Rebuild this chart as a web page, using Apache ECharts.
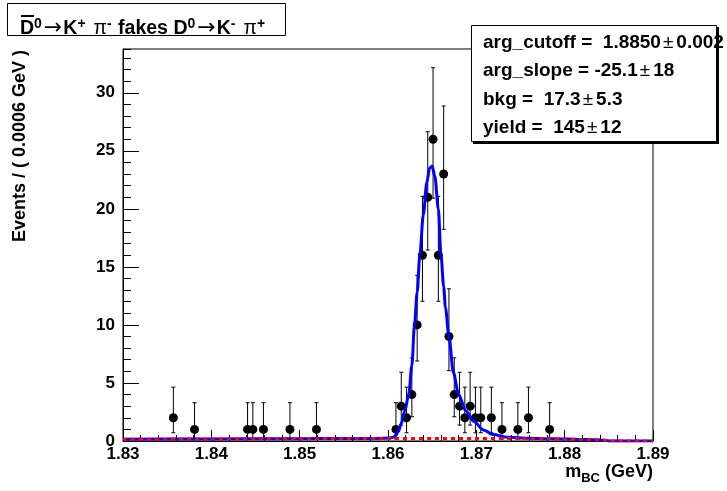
<!DOCTYPE html>
<html>
<head>
<meta charset="utf-8">
<script src="https://cdn.jsdelivr.net/npm/echarts@6/dist/echarts.min.js"></script>
<style>
  html, body { margin: 0; padding: 0; background: #fff; }
  #chart { width: 727px; height: 491px; }
</style>
</head>
<body>
<div id="chart"></div>
<script>
// Binned data: bin centres (GeV), event counts and Poisson error bars
const binCentres = [1.8357, 1.8381, 1.8441, 1.8447, 1.8459, 1.8489, 1.8519,
  1.8609, 1.8615, 1.8621, 1.8627, 1.8633, 1.8639, 1.8645, 1.8651, 1.8657,
  1.8663, 1.8669, 1.8675, 1.8681, 1.8687, 1.8693, 1.8699, 1.8705, 1.8717,
  1.8729, 1.8747, 1.8759, 1.8783];
const binCounts = [2, 1, 1, 1, 1, 1, 1,
  1, 3, 2, 4, 10, 16, 21, 26, 16,
  23, 9, 4, 3, 2, 3, 2, 2, 2,
  1, 1, 2, 1];
const errLow = [1.29, 0.83, 0.83, 0.83, 0.83, 0.83, 0.83,
  0.83, 1.63, 1.29, 1.91, 3.11, 3.96, 4.55, 5.08, 3.96,
  4.77, 2.94, 1.91, 1.63, 1.29, 1.63, 1.29, 1.29, 1.29,
  0.83, 0.83, 1.29, 0.83];
const errHigh = [2.64, 2.30, 2.30, 2.30, 2.30, 2.30, 2.30,
  2.30, 2.92, 2.64, 3.16, 4.27, 5.08, 5.65, 6.16, 5.08,
  5.86, 4.11, 3.16, 2.92, 2.64, 2.92, 2.64, 2.64, 2.64,
  2.30, 2.30, 2.64, 2.30];

// Total fit curve (signal + background), sampled in mass
const fitMass = [1.8300, 1.8400, 1.8500, 1.8550, 1.8580, 1.8592, 1.8600, 1.8603,
  1.8606, 1.8609, 1.8612, 1.8615, 1.8619, 1.86235, 1.8627, 1.8630, 1.8633,
  1.8636, 1.8640, 1.8644, 1.8647, 1.8650, 1.8653, 1.8657, 1.8660, 1.8663,
  1.8665, 1.8669, 1.8674, 1.8680, 1.8688, 1.8697, 1.8708, 1.8719, 1.8735,
  1.8760, 1.8780, 1.8800, 1.8820, 1.8830, 1.8840, 1.8845, 1.8849, 1.8850, 1.8900];
const fitTotal = [0.15, 0.17, 0.20, 0.21, 0.22, 0.23, 0.25, 0.27,
  0.33, 0.50, 0.90, 1.5, 2.6, 4.0, 6.5, 10.0, 12.8,
  16.0, 19.5, 22.3, 23.5, 23.7, 22.8, 20.0, 16.0, 13.3,
  11.5, 9.0, 5.9, 4.0, 2.6, 1.7, 0.95, 0.55, 0.32,
  0.24, 0.20, 0.17, 0.136, 0.114, 0.083, 0.06, 0.027, 0, 0];

// ARGUS background component
const bkgMass = [1.830, 1.835, 1.840, 1.845, 1.850, 1.855, 1.860, 1.865, 1.870,
  1.875, 1.878, 1.880, 1.882, 1.883, 1.884, 1.8845, 1.8849, 1.885, 1.890];
const bkgVal = [0.148, 0.161, 0.174, 0.184, 0.199, 0.210, 0.219, 0.224, 0.221,
  0.206, 0.187, 0.166, 0.136, 0.114, 0.083, 0.059, 0.027, 0, 0];

// Axis settings
const xMin = 1.83, xMax = 1.89, xStep = 0.01;
const yMax = 33.77, yStep = 5;

// Fit parameter box lines: name, value, error
const parNames = ['arg_cutoff', 'arg_slope', 'bkg', 'yield'];
const parValues = [' 1.8850', '-25.1', ' 17.3', ' 145'];
const parErrors = ['0.002', '18', '5.3', '12'];

const FONT = '"Liberation Sans", Arial, Helvetica, sans-serif';
const SYM = '"DejaVu Sans", "Liberation Sans", sans-serif';

const chart = echarts.init(document.getElementById('chart'), null, { renderer: 'canvas' });

const zip = (a, b) => a.map((v, i) => [v, b[i]]);

const axisBlack = { color: '#000', width: 1 };

const statLines = parNames.map((n, i) => ({
  type: 'text',
  x: 483,
  y: 43 + i * 28.2,
  z: 102,
  style: {
    text: '{b|' + n + ' = ' + parValues[i] + '}{pm|±}{b|' + parErrors[i] + '}',
    verticalAlign: 'middle',
    rich: {
      b: { font: 'bold 19px ' + FONT, fill: '#000' },
      pm: { font: '19px ' + FONT, fill: '#000', padding: [0, 3, 0, 2] }
    }
  }
}));

const option = {
  animation: false,
  backgroundColor: '#fff',
  grid: {
    left: 123, right: 74, top: 49, bottom: 50,
    show: true, borderColor: '#000', borderWidth: 1, backgroundColor: '#fff'
  },
  xAxis: {
    type: 'value', min: xMin, max: xMax, interval: xStep,
    axisLine: { onZero: false, lineStyle: axisBlack },
    axisTick: { inside: true, length: 11, lineStyle: axisBlack },
    minorTick: { show: true, splitNumber: 5, length: 6, lineStyle: axisBlack },
    splitLine: { show: false },
    axisLabel: {
      color: '#000', fontFamily: FONT, fontWeight: 'bold', fontSize: 17, margin: 5,
      formatter: v => v.toFixed(2)
    }
  },
  yAxis: [
    {
      type: 'value', min: 0, max: yMax, interval: yStep,
      axisLine: { onZero: false, lineStyle: axisBlack },
      axisTick: { inside: true, length: 16, lineStyle: axisBlack },
      splitLine: { show: false },
      axisLabel: {
        color: '#000', fontFamily: FONT, fontWeight: 'bold', fontSize: 17, margin: 8,
        showMaxLabel: false, formatter: v => String(Math.round(v))
      }
    },
    {
      type: 'value', min: 0, max: yMax, interval: 1, position: 'left', offset: 0,
      axisLine: { show: false },
      axisTick: { inside: true, length: 8, lineStyle: axisBlack },
      axisLabel: { show: false },
      splitLine: { show: false }
    }
  ],
  series: [
    {
      name: 'errors',
      type: 'custom',
      z: 3,
      data: binCentres.map((m, i) => [m, binCounts[i], errLow[i], errHigh[i]]),
      renderItem: (params, api) => {
        const m = api.value(0), n = api.value(1);
        const lo = api.coord([m, n - api.value(2)]);
        const hi = api.coord([m, n + api.value(3)]);
        const st = { stroke: '#000', lineWidth: 1 };
        return {
          type: 'group',
          children: [
            { type: 'line', shape: { x1: lo[0], y1: lo[1], x2: hi[0], y2: hi[1] }, style: st },
            { type: 'line', shape: { x1: lo[0] - 2, y1: lo[1], x2: lo[0] + 2, y2: lo[1] }, style: st },
            { type: 'line', shape: { x1: hi[0] - 2, y1: hi[1], x2: hi[0] + 2, y2: hi[1] }, style: st }
          ]
        };
      }
    },
    {
      name: 'data',
      type: 'scatter',
      z: 4,
      symbol: 'circle',
      symbolSize: 9,
      itemStyle: { color: '#000', opacity: 1 },
      data: zip(binCentres, binCounts)
    },
    {
      name: 'fit',
      type: 'line',
      z: 5,
      showSymbol: false,
      smooth: 0.3,
      smoothMonotone: 'x',
      lineStyle: { color: '#0000ff', width: 3 },
      data: zip(fitMass, fitTotal)
    },
    {
      name: 'background',
      type: 'line',
      z: 6,
      showSymbol: false,
      smooth: 0.3,
      smoothMonotone: 'x',
      lineStyle: { color: '#ff0000', width: 3, type: [4, 4] },
      data: zip(bkgMass, bkgVal)
    }
  ],
  graphic: [
    // plot title box
    {
      type: 'rect', z: 100,
      shape: { x: 7.5, y: 3.5, width: 278, height: 32 },
      style: { fill: '#fff', stroke: '#000', lineWidth: 1 }
    },
    {
      type: 'text', z: 101, x: 20, y: 39,
      style: {
        text: '{b|D}{sup|0}{ar|→}{b|K}{sup|+}{pi|π}{sup|-}{b| fakes D}{sup|0}{ar|→}{b|K}{sup|-}{pi|π}{sup|+}',
        verticalAlign: 'bottom',
        rich: {
          b: { font: 'bold 19.5px ' + FONT, fill: '#000', lineHeight: 22, verticalAlign: 'bottom' },
          sup: { font: 'bold 14px ' + FONT, fill: '#000', lineHeight: 15, verticalAlign: 'top', padding: [0, 1, 0, 0] },
          ar: { font: '22px ' + SYM, fill: '#000', lineHeight: 22, verticalAlign: 'bottom', padding: [0, 1, 0, 1] },
          pi: { font: '19.5px ' + FONT, fill: '#000', lineHeight: 22, verticalAlign: 'bottom', padding: [0, 0, 0, 7] }
        }
      }
    },
    {
      type: 'rect', z: 102,
      shape: { x: 21, y: 15, width: 13, height: 2 },
      style: { fill: '#000' }
    },
    // fit parameter box with shadow
    {
      type: 'rect', z: 100,
      shape: { x: 473, y: 27, width: 246, height: 117 },
      style: { fill: '#000' }
    },
    {
      type: 'rect', z: 101,
      shape: { x: 471.5, y: 25.5, width: 245, height: 116 },
      style: { fill: '#fff', stroke: '#000', lineWidth: 1 }
    },
    ...statLines,
    // axis titles
    {
      type: 'text', z: 100, x: 20, y: 50, rotation: Math.PI / 2,
      style: {
        text: 'Events / ( 0.0006 GeV )',
        font: 'bold 18px ' + FONT, fill: '#000',
        align: 'right', verticalAlign: 'middle'
      }
    },
    {
      type: 'text', z: 100, x: 653, y: 485,
      style: {
        text: '{b|m}{sub|BC}{b| (GeV)}',
        align: 'right', verticalAlign: 'bottom',
        rich: {
          b: { font: 'bold 18px ' + FONT, fill: '#000', lineHeight: 22, verticalAlign: 'top' },
          sub: { font: 'bold 13px ' + FONT, fill: '#000', lineHeight: 14, verticalAlign: 'bottom' }
        }
      }
    }
  ]
};

chart.setOption(option);
</script>
</body>
</html>
